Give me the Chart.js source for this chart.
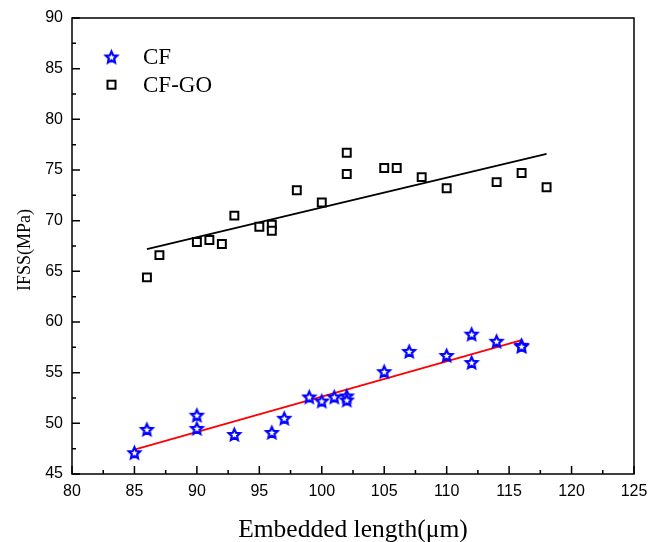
<!DOCTYPE html>
<html><head><meta charset="utf-8">
<script src="https://cdn.jsdelivr.net/npm/chart.js@4/dist/chart.umd.min.js"></script>
<style>html,body{margin:0;padding:0;background:#fff;} canvas{display:block;}</style>
</head><body>
<canvas id="c" width="648" height="542"></canvas>
<script>
// ---- data ----
const cfLength = [85, 86, 90, 90, 93, 96, 97, 99, 100, 101, 102, 102, 105, 107, 110, 112, 112, 114, 116, 116];
const cfIFSS   = [47.1, 49.4, 50.8, 49.5, 48.9, 49.1, 50.5, 52.6, 52.2, 52.6, 52.7, 52.3, 55.1, 57.1, 56.7, 58.8, 56.0, 58.1, 57.7, 57.6];
const goLength = [86, 87, 90, 91, 92, 93, 95, 96, 96, 98, 100, 102, 102, 105, 106, 108, 110, 114, 116, 118];
const goIFSS   = [64.4, 66.6, 67.9, 68.1, 67.7, 70.5, 69.4, 69.6, 69.0, 73.0, 71.8, 76.7, 74.6, 75.2, 75.2, 74.3, 73.2, 73.8, 74.7, 73.3];
const cfFitLength = [85, 116];
const cfFitIFSS   = [47.4, 58.2];
const goFitLength = [86, 118];
const goFitIFSS   = [67.2, 76.6];
const seriesNames = ['CF', 'CF-GO'];
const xTitle = 'Embedded length(μm)';
const yTitle = 'IFSS(MPa)';
const xRange = [80, 125];
const yRange = [45, 90];
const tickStep = 5;

function pts(xs, ys) { return xs.map((x, i) => ({x: x, y: ys[i]})); }

function makeStar(R, r, lw, color) {
  const c = document.createElement('canvas');
  const s = Math.ceil(2 * R + lw + 4);
  c.width = s; c.height = s;
  const g = c.getContext('2d');
  g.translate(s / 2, s / 2 + 0.095 * R);
  g.beginPath();
  for (let k = 0; k < 10; k++) {
    const ang = -Math.PI / 2 + k * Math.PI / 5;
    const rad = (k % 2 === 0) ? R : r;
    const px = rad * Math.cos(ang), py = rad * Math.sin(ang);
    if (k === 0) g.moveTo(px, py); else g.lineTo(px, py);
  }
  g.closePath();
  g.fillStyle = '#fff';
  g.fill();
  g.lineWidth = lw;
  g.lineJoin = 'miter';
  g.strokeStyle = color;
  g.stroke();
  return c;
}
const starImg = makeStar(6, 2.8, 2.2, '#0000ff');

const framePlugin = {
  id: 'frame',
  afterDraw(chart) {
    const {ctx, chartArea: a, scales: {x, y}} = chart;
    ctx.save();
    ctx.strokeStyle = '#000';
    ctx.lineWidth = 1.5;
    ctx.strokeRect(a.left, a.top, a.right - a.left, a.bottom - a.top);
    ctx.beginPath();
    const xt = x.ticks.map(t => t.value);
    xt.forEach((v, i) => {
      const p = x.getPixelForValue(v);
      ctx.moveTo(p, a.bottom); ctx.lineTo(p, a.bottom - 8);
      if (i < xt.length - 1) {
        const m = x.getPixelForValue((v + xt[i + 1]) / 2);
        ctx.moveTo(m, a.bottom); ctx.lineTo(m, a.bottom - 4);
      }
    });
    const yt = y.ticks.map(t => t.value);
    yt.forEach((v, i) => {
      const p = y.getPixelForValue(v);
      ctx.moveTo(a.left, p); ctx.lineTo(a.left + 8, p);
      if (i < yt.length - 1) {
        const m = y.getPixelForValue((v + yt[i + 1]) / 2);
        ctx.moveTo(a.left, m); ctx.lineTo(a.left + 4, m);
      }
    });
    ctx.stroke();

    // axis titles
    ctx.fillStyle = '#000';
    ctx.font = '25.5px "Liberation Serif", "Times New Roman", serif';
    ctx.textAlign = 'center';
    ctx.textBaseline = 'alphabetic';
    ctx.fillText(xTitle, (a.left + a.right) / 2, 537);
    ctx.save();
    ctx.translate(29.5, (a.top + a.bottom) / 2 + 4);
    ctx.rotate(-Math.PI / 2);
    ctx.font = '18px "Liberation Serif", "Times New Roman", serif';
    ctx.fillText(yTitle, 0, 0);
    ctx.restore();

    // legend
    const lx = a.left + 39.5;
    ctx.drawImage(starImg, lx - starImg.width / 2, a.top + 39 - starImg.height / 2);
    ctx.lineWidth = 2;
    ctx.strokeStyle = '#000';
    ctx.fillStyle = '#fff';
    ctx.fillRect(lx - 4, a.top + 66.7 - 4, 8, 8);
    ctx.strokeRect(lx - 4, a.top + 66.7 - 4, 8, 8);
    ctx.fillStyle = '#000';
    ctx.font = '23px "Liberation Serif", "Times New Roman", serif';
    ctx.textAlign = 'left';
    ctx.textBaseline = 'middle';
    ctx.fillText(seriesNames[0], a.left + 71, a.top + 40);
    ctx.fillText(seriesNames[1], a.left + 71, a.top + 68);
    ctx.restore();
  }
};

const tickFont = {family: '"Liberation Sans", Arial, sans-serif', size: 16};

new Chart(document.getElementById('c'), {
  type: 'scatter',
  data: {
    datasets: [
      {label: seriesNames[0], data: pts(cfLength, cfIFSS), pointStyle: starImg, pointRadius: 6, order: 0},
      {label: seriesNames[1], data: pts(goLength, goIFSS), pointStyle: 'rect', pointRadius: 5.6,
        pointBorderWidth: 2, pointBorderColor: '#000', pointBackgroundColor: '#fff', order: 0},
      {label: 'fitCF', data: pts(cfFitLength, cfFitIFSS), showLine: true, pointRadius: 0,
        borderColor: '#ff0000', borderWidth: 1.8, order: 1},
      {label: 'fitGO', data: pts(goFitLength, goFitIFSS), showLine: true, pointRadius: 0,
        borderColor: '#000', borderWidth: 1.8, order: 1}
    ]
  },
  options: {
    responsive: false,
    animation: false,
    devicePixelRatio: 1,
    layout: {padding: {top: 18, right: 14, left: 0, bottom: 0}},
    plugins: {legend: {display: false}, tooltip: {enabled: false}},
    scales: {
      x: {
        type: 'linear', min: xRange[0], max: xRange[1],
        ticks: {stepSize: tickStep, color: '#000', font: tickFont, padding: 8, maxRotation: 0},
        grid: {display: false, drawTicks: false},
        border: {display: false},
        afterFit(s) { s.height = 68; s.paddingLeft = 0; s.paddingRight = 0; }
      },
      y: {
        type: 'linear', min: yRange[0], max: yRange[1],
        ticks: {stepSize: tickStep, color: '#000', font: tickFont, padding: 9},
        grid: {display: false, drawTicks: false},
        border: {display: false},
        afterFit(s) { s.width = 72; s.paddingTop = 0; s.paddingBottom = 0; }
      }
    }
  },
  plugins: [framePlugin]
});
</script>
</body></html>
